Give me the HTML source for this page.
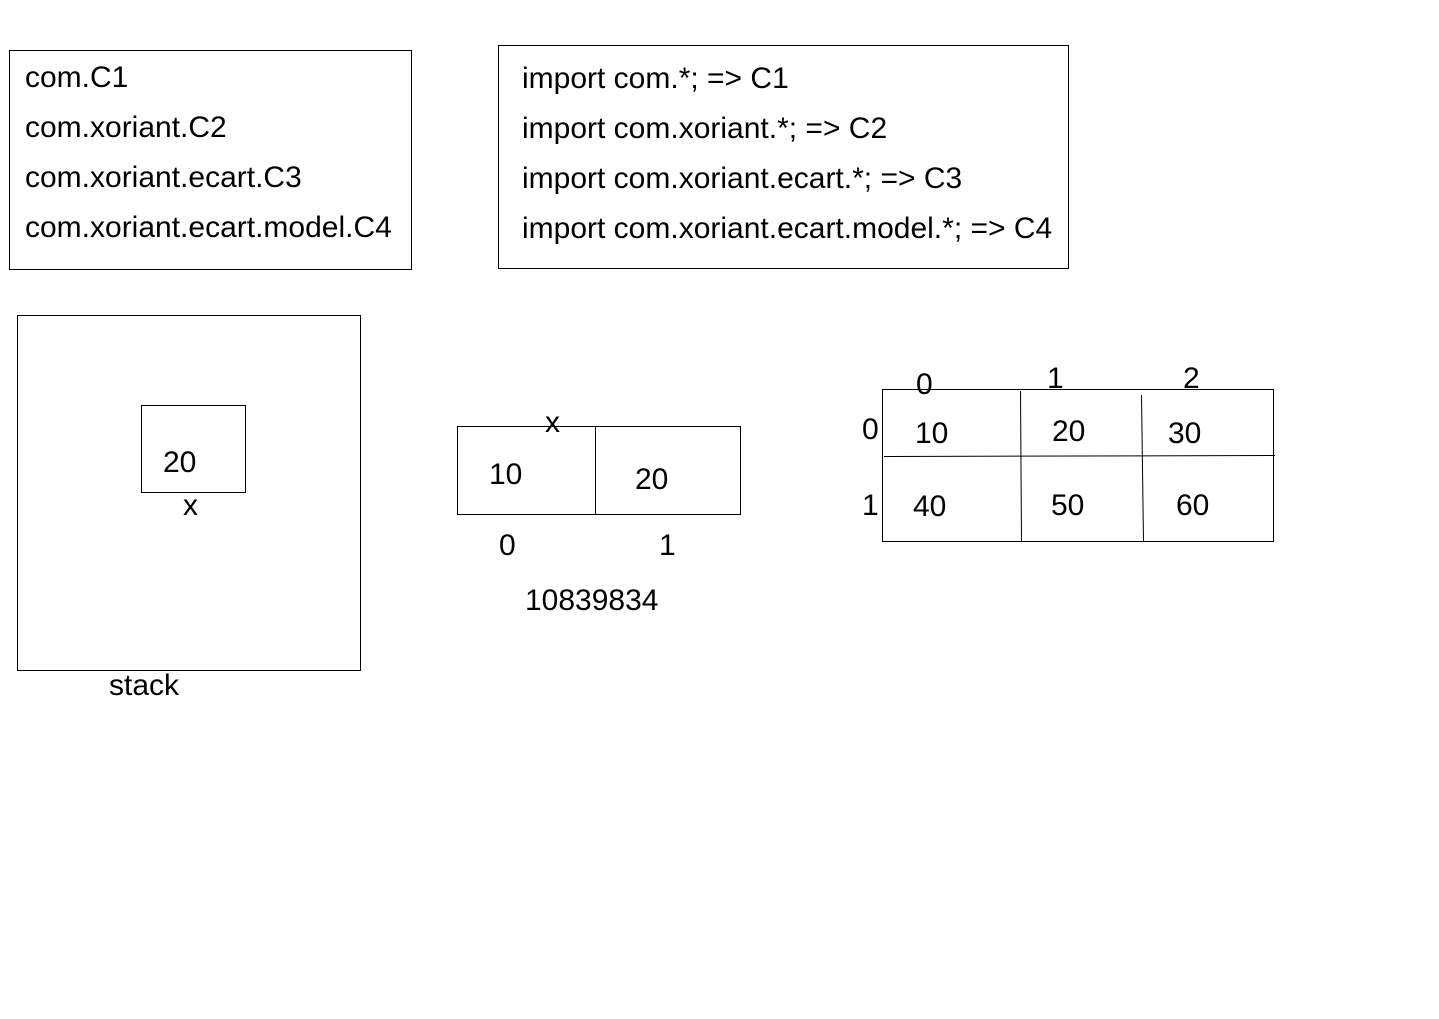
<!DOCTYPE html>
<html><head><style>body{margin:0;background:#fff}svg{display:block}text{font-family:"Liberation Sans",Arial,sans-serif;font-size:30px;fill:#000}</style></head>
<body>
<svg width="1439" height="1019" xmlns="http://www.w3.org/2000/svg">
<g fill="none" stroke="#000" stroke-width="1">
<rect x="9.5" y="50.5" width="402" height="219"/>
<rect x="498.5" y="45.5" width="570" height="223"/>
<rect x="17.5" y="315.5" width="343" height="355"/>
<rect x="141.5" y="405.5" width="104" height="87"/>
<rect x="457.5" y="426.5" width="283" height="88"/>
<line x1="595.5" y1="427" x2="595.5" y2="514"/>
<rect x="882.5" y="389.5" width="391" height="152"/>
<line x1="884" y1="456.5" x2="1275" y2="455.5"/>
<line x1="1020.5" y1="391" x2="1021.5" y2="541"/>
<line x1="1141.5" y1="395" x2="1143.5" y2="541"/>
</g>
<text x="25" y="87">com.C1</text>
<text x="25" y="137">com.xoriant.C2</text>
<text x="25" y="187">com.xoriant.ecart.C3</text>
<text x="25" y="237">com.xoriant.ecart.model.C4</text>
<text x="522" y="88">import com.*; =&gt; C1</text>
<text x="522" y="138">import com.xoriant.*; =&gt; C2</text>
<text x="522" y="188">import com.xoriant.ecart.*; =&gt; C3</text>
<text x="522" y="238">import com.xoriant.ecart.model.*; =&gt; C4</text>
<text x="163" y="472">20</text>
<text x="183" y="515">x</text>
<text x="109" y="695">stack</text>
<text x="545" y="432">x</text>
<text x="489" y="484">10</text>
<text x="635" y="489">20</text>
<text x="499" y="555">0</text>
<text x="659" y="555">1</text>
<text x="525" y="610">10839834</text>
<text x="916" y="394">0</text>
<text x="1047" y="388">1</text>
<text x="1183" y="388">2</text>
<text x="862" y="439">0</text>
<text x="862" y="515">1</text>
<text x="915" y="443">10</text>
<text x="1052" y="441">20</text>
<text x="1168" y="443">30</text>
<text x="913" y="516">40</text>
<text x="1051" y="515">50</text>
<text x="1176" y="515">60</text>
</svg>
</body></html>
